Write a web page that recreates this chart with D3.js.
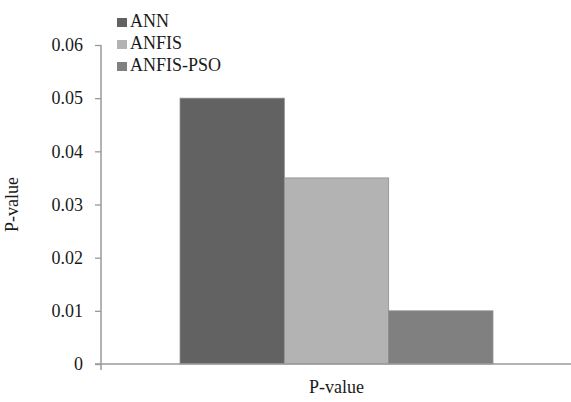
<!DOCTYPE html>
<html>
<head>
<meta charset="utf-8">
<script src="https://cdn.jsdelivr.net/npm/d3@7"></script>
<style>
  html, body { margin: 0; padding: 0; background: #fff; }
  svg { display: block; }
  text { font-family: "Liberation Serif", "Times New Roman", serif; fill: #1a1a1a; }
</style>
</head>
<body>
<svg id="chart" width="571" height="402"></svg>
<script>
// Chart data
const categories = ["P-value"];
const seriesNames = ["ANN", "ANFIS", "ANFIS-PSO"];
const seriesValues = [0.05, 0.035, 0.01];
const seriesColors = ["#626262", "#b3b3b3", "#808080"];
const yTicks = [0, 0.01, 0.02, 0.03, 0.04, 0.05, 0.06];
const yTickLabels = ["0", "0.01", "0.02", "0.03", "0.04", "0.05", "0.06"];

const svg = d3.select("#chart");
const margin = { left: 101, right: 0, top: 45, bottom: 38 };
const W = 571, H = 402;
const plotW = W - margin.left - margin.right;
const plotH = H - margin.top - margin.bottom;

const g = svg.append("g").attr("transform", `translate(${margin.left},${margin.top})`);

const y = d3.scaleLinear().domain([0, 0.06]).range([plotH, 0]);
const x0 = d3.scaleBand().domain(categories).range([0, plotW + 1]).paddingInner(0).paddingOuter(0.2525);
const x1 = d3.scaleBand().domain(seriesNames).range([0, x0.bandwidth()]).padding(0);

// Bars
const rows = seriesNames.map((s, i) => ({ name: s, value: seriesValues[i], color: seriesColors[i] }));
g.selectAll("rect.bar")
  .data(rows)
  .join("rect")
  .attr("class", "bar")
  .attr("x", d => x0(categories[0]) + x1(d.name))
  .attr("y", d => y(d.value))
  .attr("width", x1.bandwidth())
  .attr("height", d => plotH - y(d.value))
  .attr("fill", d => d.color)
  .attr("stroke", "#8e8e8e")
  .attr("stroke-width", 0.8);

// Y axis
const yAxis = d3.axisLeft(y)
  .tickValues(yTicks)
  .tickFormat((d, i) => yTickLabels[i])
  .tickSize(6)
  .tickPadding(12);
const yg = g.append("g").call(yAxis);
yg.select(".domain").remove();
yg.selectAll(".tick line").attr("stroke", "#9a9a9a").attr("stroke-width", 1.3);
yg.selectAll(".tick text").attr("font-size", 18).style("font-family", "Liberation Serif, serif").attr("fill", "#1a1a1a");

// Axis lines
g.append("line")
  .attr("x1", 0).attr("x2", 0)
  .attr("y1", y(0.06)).attr("y2", plotH + 6)
  .attr("stroke", "#9a9a9a").attr("stroke-width", 1.5);
g.append("line")
  .attr("x1", -6).attr("x2", plotW)
  .attr("y1", plotH).attr("y2", plotH)
  .attr("stroke", "#9a9a9a").attr("stroke-width", 1.5);

// Axis titles
svg.append("text")
  .attr("x", margin.left + (x0(categories[0]) + x0.bandwidth() / 2))
  .attr("y", 393)
  .attr("text-anchor", "middle")
  .attr("font-size", 18)
  .text(categories[0]);

svg.append("text")
  .attr("transform", `translate(18,${margin.top + plotH / 2}) rotate(-90)`)
  .attr("text-anchor", "middle")
  .attr("font-size", 18)
  .text("P-value");

// Legend
const legend = svg.append("g").attr("transform", "translate(117,18)");
const lg = legend.selectAll("g")
  .data(rows)
  .join("g")
  .attr("transform", (d, i) => `translate(0,${i * 22})`);
lg.append("rect")
  .attr("width", 10).attr("height", 9)
  .attr("fill", d => d.color);
lg.append("text")
  .attr("x", 13).attr("y", 9)
  .attr("font-size", 18)
  .text(d => d.name);
</script>
</body>
</html>
